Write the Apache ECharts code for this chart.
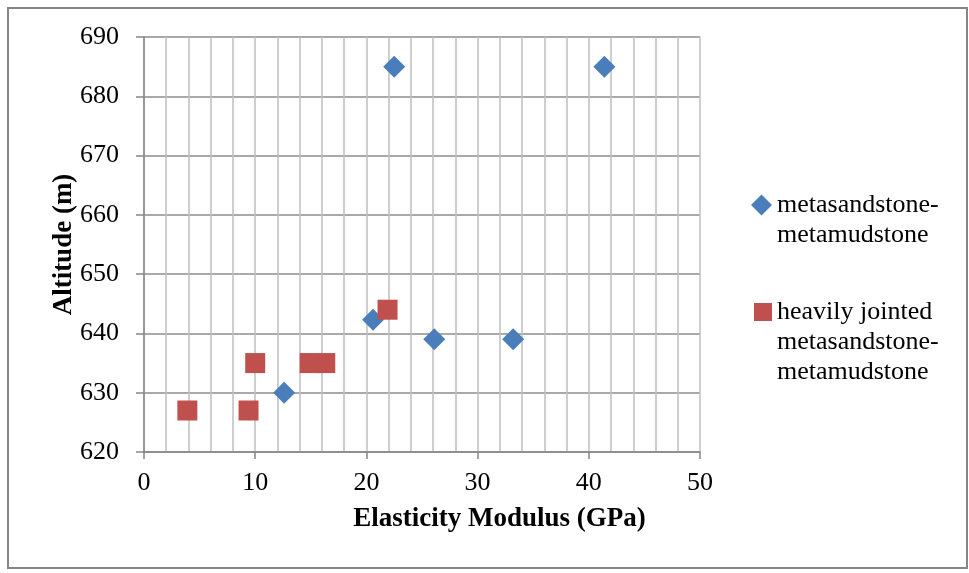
<!DOCTYPE html>
<html>
<head>
<meta charset="utf-8">
<script src="https://cdn.jsdelivr.net/npm/echarts@6/dist/echarts.min.js"></script>
<style>html,body{margin:0;padding:0;background:#fff;}#c{width:969px;height:573px;}</style>
</head>
<body>
<div id="c"></div>
<script>
const seriesNames = ['metasandstone-\nmetamudstone', 'heavily jointed\nmetasandstone-\nmetamudstone'];
const blueX = [22.5, 41.4, 20.6, 12.6, 26.1, 33.2];
const blueY = [685, 685, 642.3, 630, 639, 639];
const redX = [3.9, 9.4, 10.0, 14.9, 16.3, 21.9];
const redY = [627, 627, 635, 635, 635, 644];
const xTicks = [0, 10, 20, 30, 40, 50];
const yTicks = [620, 630, 640, 650, 660, 670, 680, 690];

const font = '"Liberation Serif", "Times New Roman", serif';
const chart = echarts.init(document.getElementById('c'));
const zip = (xs, ys) => xs.map((x, i) => [x, ys[i]]);
// pad each legend label with empty lines above so its icon sits beside the first line
const padTop = name => '\n'.repeat(name.split('\n').length - 1) + name;

chart.setOption({
  animation: false,
  backgroundColor: '#fff',
  graphic: [{
    type: 'rect', shape: {x: 8, y: 8, width: 959, height: 560},
    style: {fill: 'none', stroke: '#868686', lineWidth: 2}, silent: true, z: -1
  }],
  grid: {left: 144, top: 37, width: 556, height: 415, outerBoundsMode: 'none', containLabel: false},
  xAxis: {
    type: 'value', min: xTicks[0], max: xTicks[xTicks.length - 1], interval: 10,
    name: 'Elasticity Modulus (GPa)', nameLocation: 'middle', nameGap: 54,
    nameTextStyle: {fontFamily: font, fontSize: 27, fontWeight: 'bold', color: '#000', padding: [0, 0, 0, 155]},
    axisLine: {show: true, onZero: false, lineStyle: {color: '#868686', width: 1.5}},
    axisTick: {show: true, length: 7, lineStyle: {color: '#868686', width: 1.5}},
    axisLabel: {fontFamily: font, fontSize: 26, color: '#000', margin: 18},
    splitLine: {show: true, lineStyle: {color: '#bfbfbf', width: 1.5}},
    minorTick: {show: false, splitNumber: 5},
    minorSplitLine: {show: true, lineStyle: {color: '#bfbfbf', width: 1.5}}
  },
  yAxis: {
    type: 'value', min: yTicks[0], max: yTicks[yTicks.length - 1], interval: 10,
    name: 'Altitude (m)', nameLocation: 'middle', nameGap: 66, nameMoveOverlap: false,
    nameTextStyle: {fontFamily: font, fontSize: 27, fontWeight: 'bold', color: '#000', padding: [5, 0, 0, 0]},
    axisLine: {show: true, lineStyle: {color: '#868686', width: 1.5}},
    axisTick: {show: true, length: 8, lineStyle: {color: '#868686', width: 1.5}},
    axisLabel: {fontFamily: font, fontSize: 26, color: '#000', margin: 25},
    splitLine: {show: true, lineStyle: {color: '#8c8c8c', width: 1.5}}
  },
  legend: [{
    left: 746, top: 155, orient: 'vertical', itemWidth: 21, itemHeight: 21,
    data: [seriesNames[0]], formatter: padTop,
    textStyle: {fontFamily: font, fontSize: 26, color: '#000', lineHeight: 30}
  }, {
    left: 749, top: 232, orient: 'vertical', itemWidth: 18, itemHeight: 18,
    data: [seriesNames[1]], formatter: padTop,
    textStyle: {fontFamily: font, fontSize: 26, color: '#000', lineHeight: 30}
  }],
  series: [{
    name: seriesNames[0], type: 'scatter', symbol: 'diamond', symbolSize: 22,
    itemStyle: {color: '#4a7ebb', opacity: 1}, data: zip(blueX, blueY)
  }, {
    name: seriesNames[1], type: 'scatter', symbol: 'rect', symbolSize: 20,
    itemStyle: {color: '#c0504d', opacity: 1}, data: zip(redX, redY)
  }]
});
</script>
</body>
</html>
